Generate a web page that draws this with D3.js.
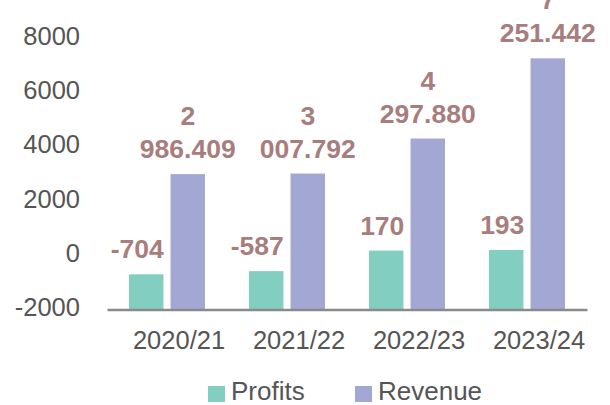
<!DOCTYPE html>
<html>
<head>
<meta charset="utf-8">
<script src="https://cdn.jsdelivr.net/npm/d3@7"></script>
<style>
  body { margin: 0; background: #fff; }
  text { font-family: "Liberation Sans", Arial, sans-serif; }
</style>
</head>
<body>
<div id="chart-area"></div>
<script>
// Data
let years = ["2020/21", "2021/22", "2022/23", "2023/24"];
let profits = [-704, -587, 170, 193];
let revenue = [2986.409, 3007.792, 4297.880, 7251.442];
let seriesNames = ["Profits", "Revenue"];
let yTicks = [-2000, 0, 2000, 4000, 6000, 8000];

let colors = {Profits: "#82cec1", Revenue: "#a3a7d4"};
let labelColor = "#a87d7d";

let width = 610, height = 405;

let svg = d3.select("#chart-area").append("svg")
    .attr("width", width)
    .attr("height", height);

// Scales
let x = d3.scaleBand()
    .domain(years)
    .range([107, 587]);

let x1 = d3.scaleBand()
    .domain(seriesNames)
    .range([22, 98])
    .paddingInner(0.17);

let y = d3.scaleLinear()
    .domain([-2000, 8000])
    .range([309.5, 38]);

let data = years.map((yr, i) => ({year: yr, Profits: profits[i], Revenue: revenue[i]}));

// Y axis labels (no line)
let yAxis = d3.axisLeft(y).tickValues(yTicks).tickSize(0).tickPadding(0)
    .tickFormat(d => String(d));
let yAxisGroup = svg.append("g")
    .attr("class", "y-axis")
    .attr("transform", "translate(80,-2)")
    .call(yAxis);
yAxisGroup.select(".domain").remove();
yAxisGroup.selectAll("text")
    .style("font-size", "25.5px")
    .attr("fill", "#555");

// Bars (drawn up from bottom of the scale)
let groups = svg.selectAll(".group")
    .data(data)
    .enter().append("g")
    .attr("class", "group")
    .attr("transform", d => "translate(" + x(d.year) + ",0)");

groups.selectAll("rect")
    .data(d => seriesNames.map(k => ({key: k, value: d[k]})))
    .enter().append("rect")
    .attr("x", d => x1(d.key))
    .attr("width", x1.bandwidth())
    .attr("y", d => y(d.value))
    .attr("height", d => y(-2000) - y(d.value))
    .attr("fill", d => colors[d.key]);

// X axis line + labels
let xAxis = d3.axisBottom(x).tickSize(0).tickPadding(0);
let xAxisGroup = svg.append("g")
    .attr("class", "x-axis")
    .attr("transform", "translate(0," + y(-2000) + ")")
    .call(xAxis);
xAxisGroup.select(".domain")
    .attr("stroke", "#8a8a8a")
    .attr("stroke-width", 2.5);
xAxisGroup.selectAll("text")
    .attr("dy", 0)
    .attr("y", 39.5)
    .attr("x", 12)
    .style("font-size", "25.5px")
    .attr("fill", "#555");

// Data labels
let fmt = d3.formatLocale({decimal: ".", thousands: " ", grouping: [3], currency: ["", ""]}).format(",.3f");

groups.selectAll(".label")
    .data(d => seriesNames.map(k => ({key: k, value: d[k]})))
    .enter().append("text")
    .attr("class", "label")
    .attr("text-anchor", "middle")
    .attr("fill", labelColor)
    .style("font-size", "26.5px")
    .style("font-weight", "bold")
    .each(function(d) {
        let t = d3.select(this);
        let cx = x1(d.key) + x1.bandwidth() / 2;
        let base = y(d.value) - 16;
        if (d.key === "Revenue") {
            let parts = fmt(d.value).split(" ");
            t.append("tspan").attr("x", cx).attr("y", base - 33).text(parts[0]);
            t.append("tspan").attr("x", cx).attr("y", base).text(parts[1]);
        } else {
            t.attr("x", cx - (d.value < 0 ? 9 : 4)).attr("y", base).text(String(d.value));
        }
    });

// Legend
let legend = svg.append("g").attr("class", "legend");
let legendX = [208, 355];
seriesNames.forEach((s, i) => {
    legend.append("rect")
        .attr("x", legendX[i])
        .attr("y", 386)
        .attr("width", 17)
        .attr("height", 16)
        .attr("fill", colors[s]);
    legend.append("text")
        .attr("x", legendX[i] + 23)
        .attr("y", 400)
        .style("font-size", "26px")
        .attr("fill", "#555")
        .text(s);
});
</script>
</body>
</html>
